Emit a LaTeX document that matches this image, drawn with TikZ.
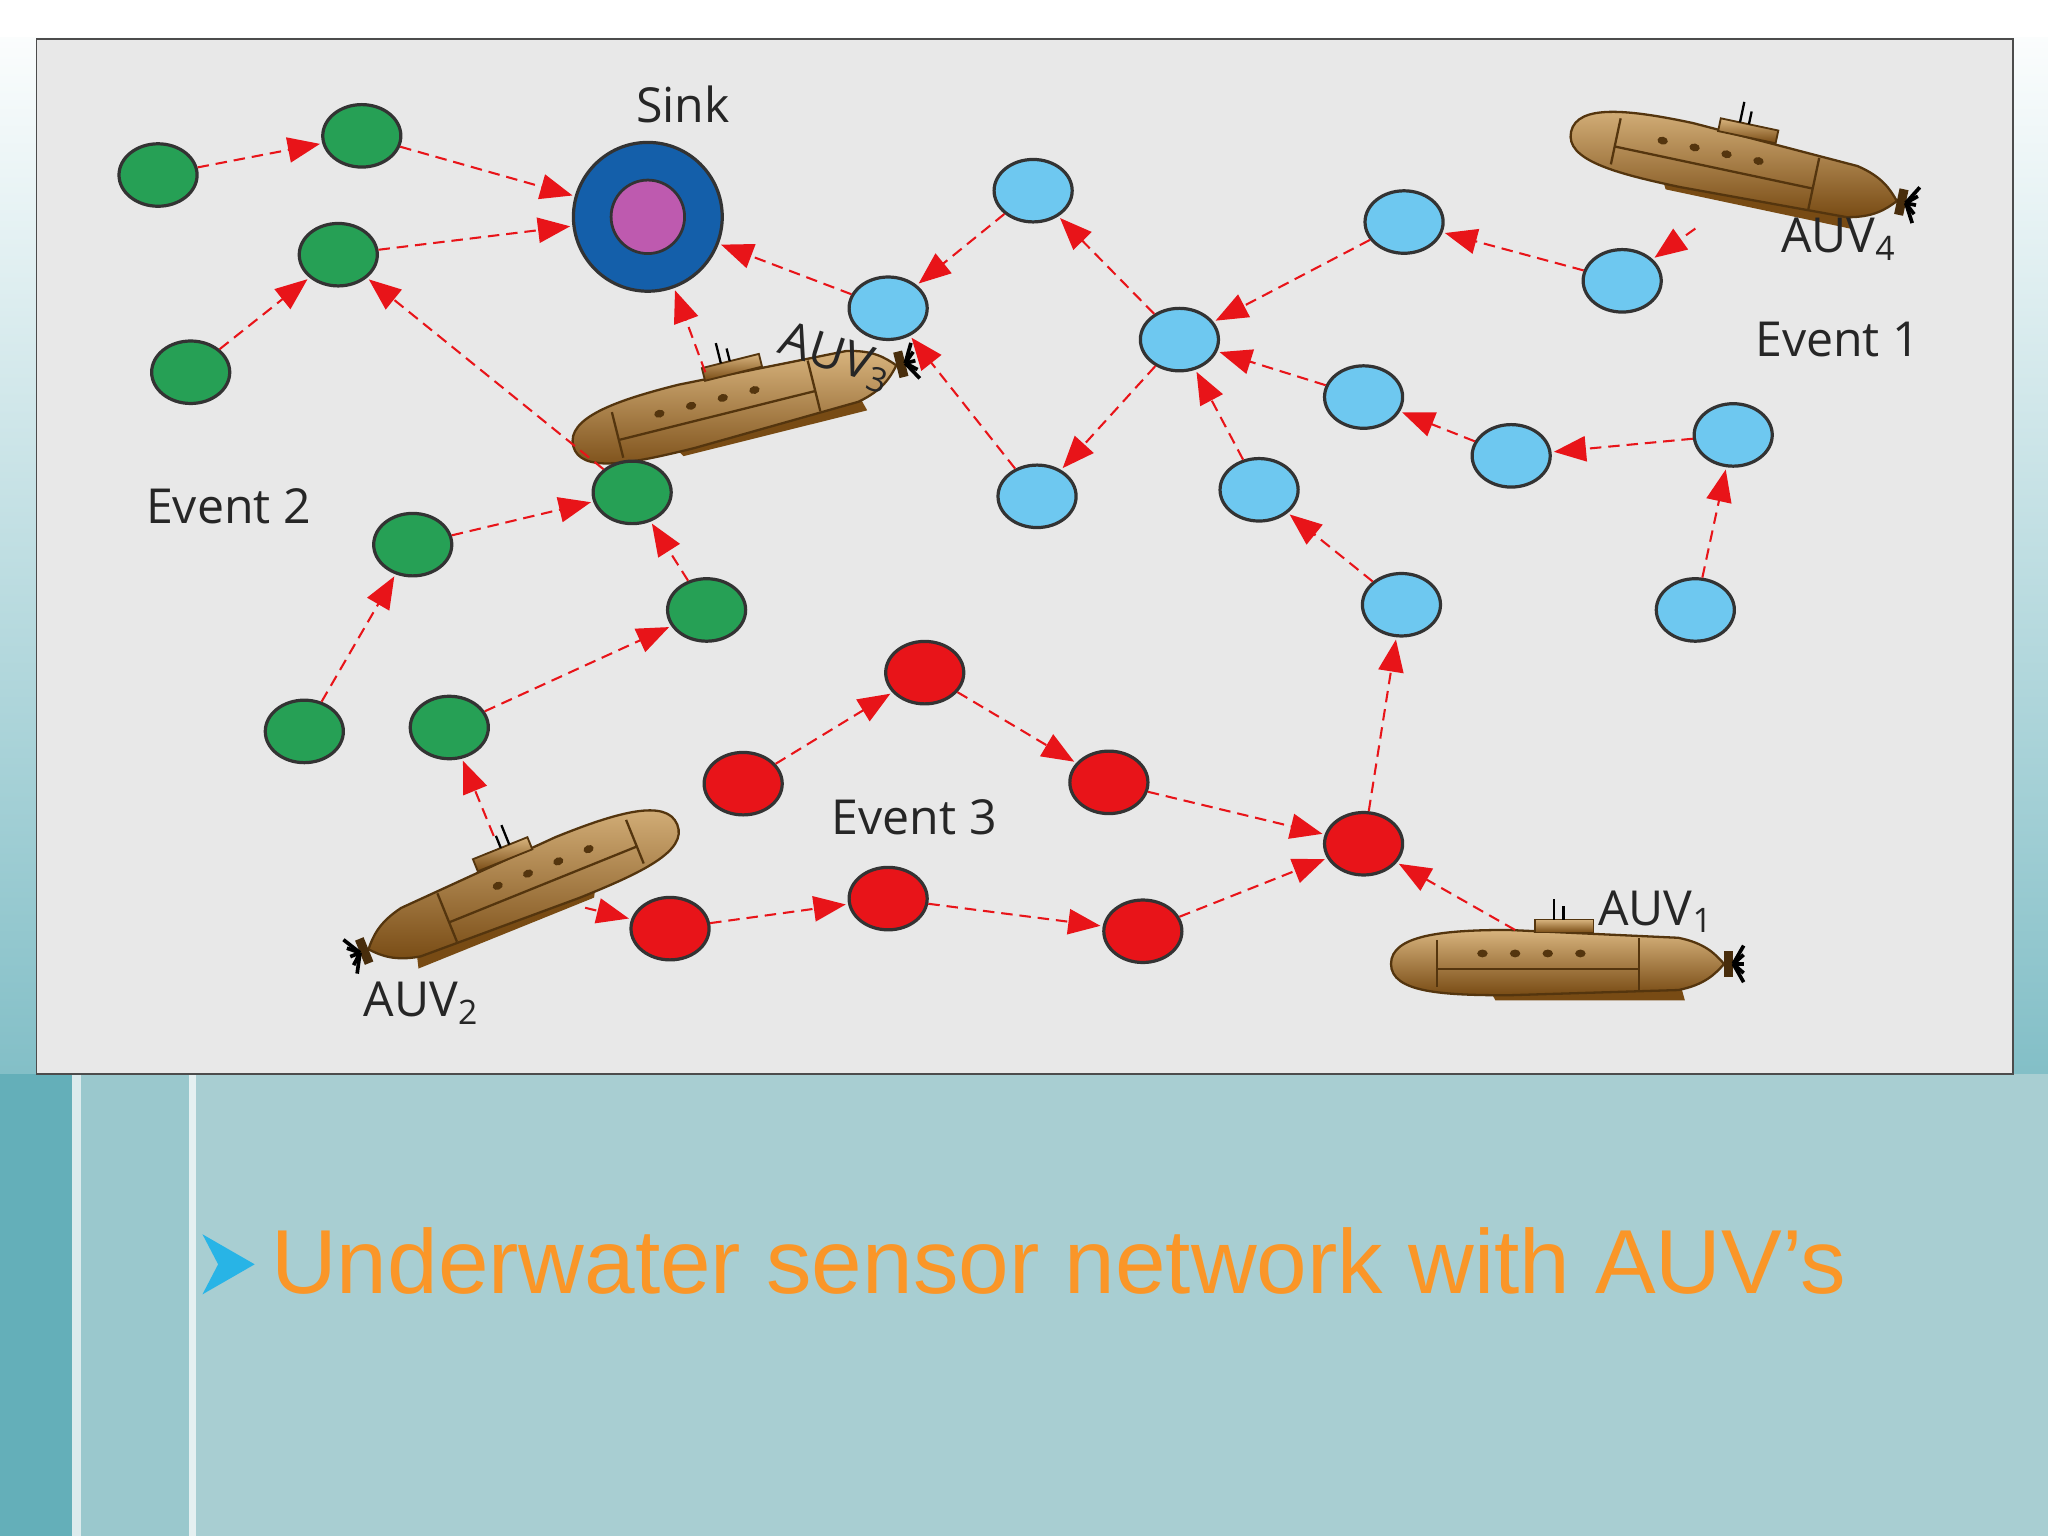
\documentclass[tikz,border=0pt]{standalone}
\usepackage{fontspec}
\setmainfont{Open Sans}
\newfontfamily\slidefont{Liberation Sans}
\usetikzlibrary{arrows.meta,shapes.geometric}
\definecolor{gnode}{RGB}{38,160,85}
\definecolor{bnode}{RGB}{110,200,240}
\definecolor{rnode}{RGB}{232,20,25}
\definecolor{sinkblue}{RGB}{20,95,170}
\definecolor{sinkpink}{RGB}{190,90,175}
\definecolor{hull}{RGB}{190,130,40}
\definecolor{hulldark}{RGB}{120,75,20}
\definecolor{sea}{RGB}{168,206,210}
\definecolor{seadark}{RGB}{100,175,185}
\definecolor{titleorange}{RGB}{250,150,40}
\definecolor{bulletblue}{RGB}{40,180,230}
\tikzset{
  sensor/.style={ellipse, draw=black!80, line width=0.7pt, minimum width=17pt, minimum height=13.6pt, inner sep=0pt},
  green node/.style={sensor, fill=gnode},
  blue node/.style={sensor, fill=bnode},
  red node/.style={sensor, fill=rnode},
  hop/.style={draw=rnode, line width=0.45pt, dash pattern=on 2.5pt off 1.5pt,
    -{Triangle[length=7pt,width=5.5pt,fill=rnode]}, shorten >=0.5pt},
  lbl/.style={font=\fontsize{10.5}{12}\selectfont, text=black!85}
}
% submarine: position, rotation, xscale (-1 for a mirrored one)
\newcommand\auvdraw[3]{
  \begin{scope}[shift={#1}, rotate=#2, xscale=#3]
    \fill[hulldark] (-60,10) -- (90,10) -- (95,28) -- (-50,28) -- cycle;
    \shade[top color=hull!60!white, bottom color=hulldark, draw=hulldark!70!black, line width=0.5pt]
      (-130,0) .. controls (-130,-22) and (-90,-26) .. (-40,-26) -- (90,-20)
      .. controls (110,-16) and (118,-8) .. (125,0)
      .. controls (118,8) and (110,16) .. (90,20) -- (-40,24)
      .. controls (-90,24) and (-130,22) .. (-130,0) -- cycle;
    \draw[hulldark!70!black, line width=0.5pt] (-95,-18) -- (-95,18) (60,-20) -- (60,20) (-95,4) -- (60,4);
    \shade[top color=hull!60!white, bottom color=hulldark, draw=hulldark!70!black] (-20,-24) rectangle (25,-34);
    \draw[black, line width=0.5pt] (-5,-34) -- (-5,-50) (2,-34) -- (2,-44);
    \foreach \px in {-60,-35,-10,15}
      \fill[hulldark!70!black] (\px,-8) ellipse (4 and 3);
    \fill[hulldark!60!black] (125,-10) rectangle (132,10);
    \foreach \py in {-14,-7,0,7,14}
      \draw[black, line width=0.8pt] (132,0) -- (140,\py);
  \end{scope}
}
\begin{document}
\begin{tikzpicture}[x=0.01cm, y=-0.01cm]
\useasboundingbox (0,0) rectangle (1568,1176);
% background
\shade[top color=white, bottom color=seadark!80] (0,0) rectangle (1568,822);
\fill[sea] (0,822) rectangle (1568,1176);
\fill[seadark] (0,822) rectangle (55,1176);
\fill[white!60!sea] (55,822) rectangle (62,1176);
\fill[sea!80!seadark] (62,822) rectangle (145,1176);
\fill[white!70!sea] (145,822) rectangle (150,1176);
\fill[white] (0,0) rectangle (1568,28);
\draw[black!70, fill=black!9] (28,30) rectangle (1541,822);
% sink
\node[circle, draw=black!80, line width=0.7pt, fill=sinkblue, minimum size=32.4pt, inner sep=0pt] (sink) at (496,166) {};
\node[circle, draw=black!80, line width=0.6pt, fill=sinkpink, minimum size=16pt, inner sep=0pt] at (sink) {};
% submarines
\auvdraw{(1195,738)}{0}{1}
\auvdraw{(398,680)}{22}{-1}
\auvdraw{(565,310)}{14}{1}
\auvdraw{(1330,128)}{-12}{1}
\coordinate (auv1) at (1160,712);
\coordinate (auv2a) at (378,640);
\coordinate (auv2b) at (448,695);
\coordinate (auv3) at (540,285);
\coordinate (auv4) at (1298,175);
% green nodes
\foreach \n/\p in {1/{121,134},2/{277,104},3/{259,195},4/{146,285},5/{484,377},6/{316,417},7/{541,467},8/{233,560},9/{344,557}}
  \node[green node] (green-\n) at (\p) {};
% blue nodes
\foreach \n/\p in {1/{791,146},2/{680,236},3/{794,380},4/{903,260},5/{1075,170},6/{1242,215},7/{1044,304},8/{1157,349},9/{1327,333},10/{964,375},11/{1073,463},12/{1298,467}}
  \node[blue node] (blue-\n) at (\p) {};
% red nodes
\foreach \n/\p in {1/{708,515},2/{569,600},3/{849,599},4/{1044,646},5/{513,711},6/{680,688},7/{875,713}}
  \node[red node] (red-\n) at (\p) {};
% hops
\foreach \a/\b in {green-1/green-2, green-2/sink, green-4/green-3, green-3/sink, green-5/green-3,
  green-6/green-5, green-7/green-5, green-8/green-6, green-9/green-7, auv2a/green-9, auv2b/red-5,
  red-5/red-6, red-6/red-7, red-7/red-4, red-2/red-1, red-1/red-3, red-3/red-4, auv1/red-4,
  red-4/blue-11, blue-11/blue-10, blue-10/blue-4, blue-12/blue-9, blue-9/blue-8, blue-8/blue-7,
  blue-7/blue-4, blue-6/blue-5, blue-5/blue-4, blue-4/blue-1, blue-1/blue-2, blue-2/sink,
  blue-4/blue-3, blue-3/blue-2, auv3/sink, auv4/blue-6}
  \draw[hop] (\a) -- (\b);
% labels
\node[lbl] at (523,80) {Sink};
\node[lbl] at (1407,260) {Event 1};
\node[lbl] at (175,388) {Event 2};
\node[lbl] at (700,626) {Event 3};
\node[lbl] at (1408,183) {AUV\textsubscript{4}};
\node[lbl, rotate=-18] at (640,274) {AUV\textsubscript{3}};
\node[lbl] at (1268,698) {AUV\textsubscript{1}};
\node[lbl] at (323,768) {AUV\textsubscript{2}};
% caption
\fill[bulletblue] (155,945) -- (195,968) -- (155,991) -- (167,968) -- cycle;
\node[anchor=base west, text=titleorange, font=\slidefont\fontsize{19.8}{24}\selectfont, inner sep=0pt] at (207,990) {Underwater sensor network with AUV’s};
\end{tikzpicture}
\end{document}
